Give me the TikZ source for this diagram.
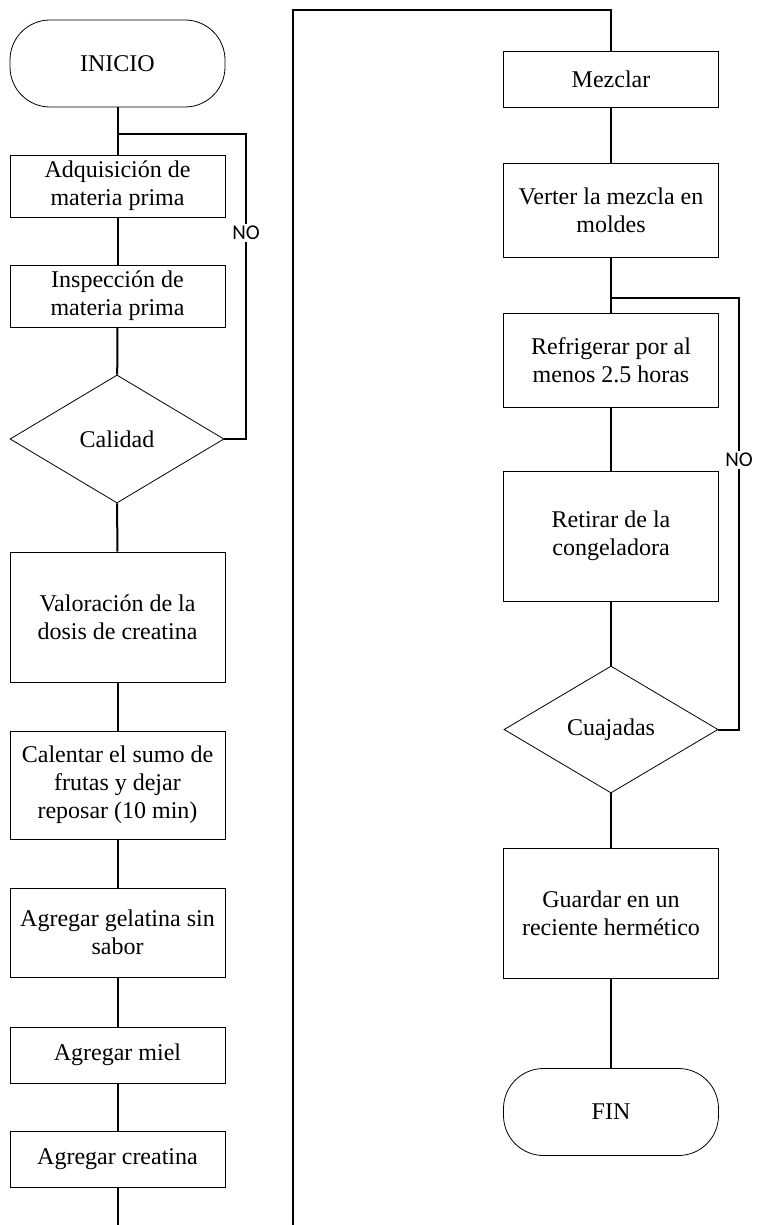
\documentclass[tikz,border=0pt]{standalone}
\usepackage{fontspec}
\setmainfont{Liberation Serif}
\newfontfamily\nofont{Carlito}
\usetikzlibrary{shapes.geometric}

\tikzset{
  proc/.style={draw, line width=0.4pt, rectangle, minimum width=107.5pt, inner sep=0pt, align=center, font=\fontsize{12}{14}\selectfont},
  term/.style={proc, rounded corners=20pt, minimum height=43.5pt},
  decis/.style={draw, line width=0.4pt, diamond, minimum width=107pt, minimum height=64pt, inner sep=0pt, font=\fontsize{12}{14}\selectfont},
  conn/.style={line width=1pt},
  nolabel/.style={fill=white, inner sep=1pt, font=\nofont\fontsize{10.5}{12}\selectfont}
}

\begin{document}
\begin{tikzpicture}[x=0.5pt,y=-0.5pt]
\useasboundingbox (0,0) rectangle (756,1225);

\node[term] (inicio) at (117.5,63.5) {INICIO};
\node[proc, minimum height=31pt] (adq) at (117.5,186) {Adquisición de\\materia prima};
\node[proc, minimum height=31pt] (insp) at (117.5,296) {Inspección de\\materia prima};
\node[decis] (calidad) at (117,439) {Calidad};
\node[proc, minimum height=65pt] (valor) at (117.5,617) {Valoración de la\\dosis de creatina};
\node[proc, minimum height=54pt] (calentar) at (117.5,785) {Calentar el sumo de\\frutas y dejar\\reposar (10 min)};
\node[proc, minimum height=44.5pt] (gelatina) at (117.5,932.5) {Agregar gelatina sin\\sabor};
\node[proc, minimum height=28pt] (miel) at (117.5,1055) {Agregar miel};
\node[proc, minimum height=28pt] (creatina) at (117.5,1159) {Agregar creatina};

\node[proc, minimum height=28pt] (mezclar) at (611,79) {Mezclar};
\node[proc, minimum height=47pt] (verter) at (611,210) {Verter la mezcla en\\moldes};
\node[proc, minimum height=47pt] (refrig) at (611,360) {Refrigerar por al\\menos 2.5 horas};
\node[proc, minimum height=65pt] (retirar) at (611,536) {Retirar de la\\congeladora};
\node[decis, minimum height=63.5pt] (cuajadas) at (611,729.5) {Cuajadas};
\node[proc, minimum height=65pt] (guardar) at (611,913) {Guardar en un\\reciente hermético};
\node[term] (fin) at (611,1112) {FIN};

\node[nolabel] (noa) at (246,233) {NO};
\node[nolabel] (nob) at (739,460) {NO};

\coordinate (ja) at (117.5,134);
\coordinate (jb) at (611,298);
\coordinate (fa) at (117.5,1225);
\coordinate (fb) at (293,1225);
\coordinate (top) at (293,10);

\draw[conn] (inicio) -- (adq);
\draw[conn] (adq) -- (insp);
\draw[conn] (insp) -- (calidad);
\draw[conn] (calidad) -- (valor);
\draw[conn] (valor) -- (calentar);
\draw[conn] (calentar) -- (gelatina);
\draw[conn] (gelatina) -- (miel);
\draw[conn] (miel) -- (creatina);
\draw[conn] (creatina) -- (fa);
\draw[conn] (calidad.east) -| (noa.south);
\draw[conn] (noa.north) |- (ja);

\draw[conn] (fb) -- (top) -| (mezclar.north);
\draw[conn] (mezclar) -- (verter);
\draw[conn] (verter) -- (refrig);
\draw[conn] (refrig) -- (retirar);
\draw[conn] (retirar) -- (cuajadas);
\draw[conn] (cuajadas) -- (guardar);
\draw[conn] (guardar) -- (fin);
\draw[conn] (cuajadas.east) -| (nob.south);
\draw[conn] (nob.north) |- (jb);

\end{tikzpicture}
\end{document}
